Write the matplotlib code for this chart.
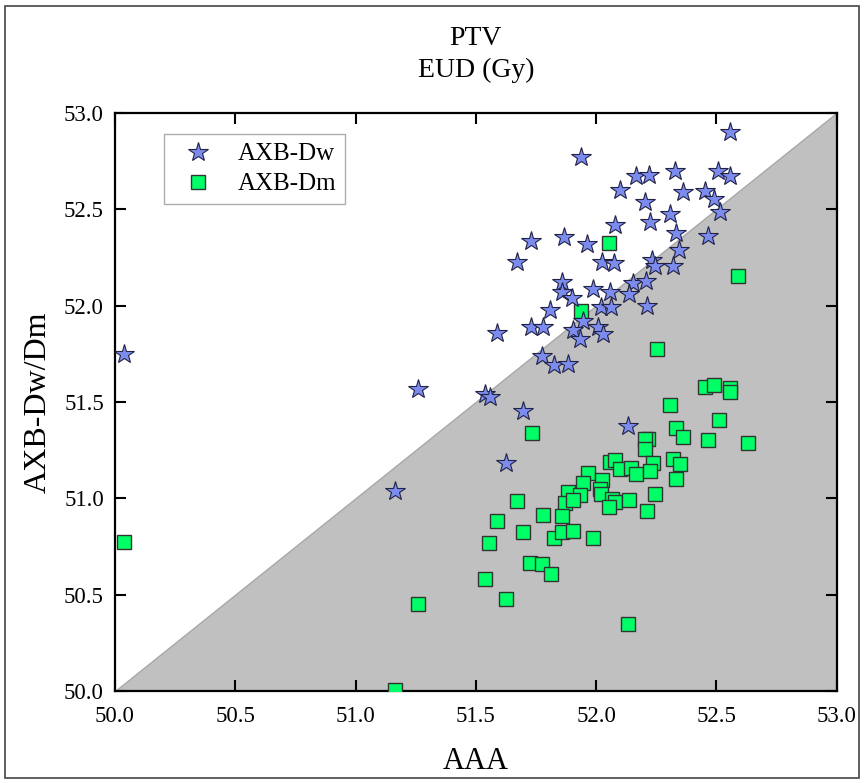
import numpy as np
import matplotlib
matplotlib.use("Agg")
import matplotlib.pyplot as plt
from matplotlib.patches import Rectangle

plt.rcParams["font.family"] = ["Liberation Serif", "DejaVu Serif"]

# AXB-Dw (stars): AAA value, AXB value
dw_aaa = [52.556, 51.937, 52.164, 52.221, 52.329, 52.505, 52.556, 52.098, 52.361, 52.452,
          52.491, 52.203, 52.515, 52.308, 52.226, 52.079, 52.333, 52.466, 51.729, 51.866,
          51.963, 51.671, 52.345, 52.023, 52.076, 52.233, 52.244, 52.318, 51.857, 51.857,
          51.898, 51.985, 52.057, 52.154, 52.206, 52.138, 51.808, 52.020, 52.060, 52.210,
          51.728, 51.780, 51.586, 51.944, 51.902, 51.933, 52.009, 52.030, 51.775, 51.823,
          51.884, 51.261, 51.538, 51.559, 51.697, 52.131, 51.624, 51.164, 50.037]
dw_axb = [52.900, 52.772, 52.672, 52.675, 52.698, 52.698, 52.673, 52.599, 52.587, 52.594,
          52.551, 52.537, 52.483, 52.473, 52.431, 52.418, 52.374, 52.360, 52.335, 52.357,
          52.317, 52.226, 52.288, 52.227, 52.222, 52.236, 52.205, 52.205, 52.122, 52.072,
          52.037, 52.084, 52.072, 52.115, 52.129, 52.058, 51.977, 51.994, 51.994, 51.997,
          51.890, 51.890, 51.859, 51.921, 51.873, 51.828, 51.890, 51.852, 51.738, 51.691,
          51.697, 51.565, 51.541, 51.524, 51.454, 51.376, 51.182, 51.036, 51.748]

# AXB-Dm (squares)
dm_aaa = [52.055, 51.938, 52.591, 52.255, 52.452, 52.490, 52.556, 52.556, 52.308, 52.512,
          52.330, 52.361, 52.467, 52.630, 52.217, 52.203, 52.203, 52.057, 52.078, 52.098,
          52.147, 52.165, 52.238, 52.224, 52.320, 52.348, 52.334, 51.965, 52.026, 51.944,
          52.016, 52.020, 51.883, 51.933, 51.869, 51.905, 52.068, 52.078, 52.053, 52.138,
          52.243, 52.210, 51.860, 51.779, 51.672, 51.586, 51.697, 51.825, 51.859, 51.902,
          51.985, 51.554, 51.732, 51.725, 51.773, 51.811, 51.538, 51.625, 51.261, 52.131,
          51.164, 50.037]
dm_axb = [52.326, 51.973, 52.153, 51.776, 51.579, 51.586, 51.574, 51.553, 51.482, 51.406,
          51.366, 51.316, 51.301, 51.285, 51.308, 51.308, 51.256, 51.190, 51.199, 51.154,
          51.156, 51.126, 51.185, 51.143, 51.204, 51.178, 51.099, 51.131, 51.093, 51.078,
          51.047, 51.021, 51.033, 51.017, 50.977, 50.991, 50.995, 50.979, 50.955, 50.990,
          51.024, 50.936, 50.908, 50.915, 50.984, 50.884, 50.824, 50.796, 50.824, 50.830,
          50.792, 50.767, 51.337, 50.663, 50.659, 50.606, 50.583, 50.476, 50.452, 50.346,
          50.005, 50.772]

lims = [50.0, 53.0]
ticks = [50.0, 50.5, 51.0, 51.5, 52.0, 52.5, 53.0]

fig = plt.figure(figsize=(8.64, 7.83), dpi=100)
ax = fig.add_axes([0.1331, 0.1175, 0.8353, 0.7385])

# shaded region below the identity line
diag = np.array(lims)
ax.fill_between(diag, diag, lims[0], color="#c0c0c0", edgecolor="#a8a8a8", lw=1, zorder=1)

ax.plot(dm_aaa, dm_axb, ls="none", marker="s", ms=9.5, mfc="#00ff66", mec="#333333",
        mew=1.0, label="AXB-Dm", zorder=3)
ax.plot(dw_aaa, dw_axb, ls="none", marker="*", ms=15, mfc="#7b8cee", mec="#222244",
        mew=0.8, label="AXB-Dw", zorder=4)

ax.set_xlim(lims)
ax.set_ylim(lims)
ax.set_xticks(ticks)
ax.set_yticks(ticks)
ax.set_xticklabels([f"{t:.1f}" for t in ticks])
ax.set_yticklabels([f"{t:.1f}" for t in ticks])
ax.tick_params(direction="in", length=8, width=1.5, top=True, right=True, labelsize=16.5)
ax.tick_params(axis="x", pad=11)
ax.tick_params(axis="y", pad=8)
for s in ax.spines.values():
    s.set_linewidth(1.6)

ax.set_xlabel("AAA", fontsize=22, labelpad=14)
ax.set_ylabel("AXB-Dw/Dm", fontsize=23, labelpad=8)
ax.set_title("PTV\nEUD (Gy)", fontsize=20, pad=26, linespacing=1.35)

h, l = ax.get_legend_handles_labels()
leg = ax.legend(h[::-1], l[::-1], loc="upper left", bbox_to_anchor=(0.068, 0.963),
                fontsize=18, frameon=True, fancybox=False, edgecolor="#999999",
                borderpad=0.35, handletextpad=0.6, labelspacing=0.3, borderaxespad=0)
leg.get_frame().set_linewidth(1.0)

fig.patches.append(Rectangle((0.006, 0.006), 0.988, 0.986, transform=fig.transFigure,
                             fill=False, edgecolor="#444444", lw=1.2))

fig.savefig("out.png", dpi=100)
